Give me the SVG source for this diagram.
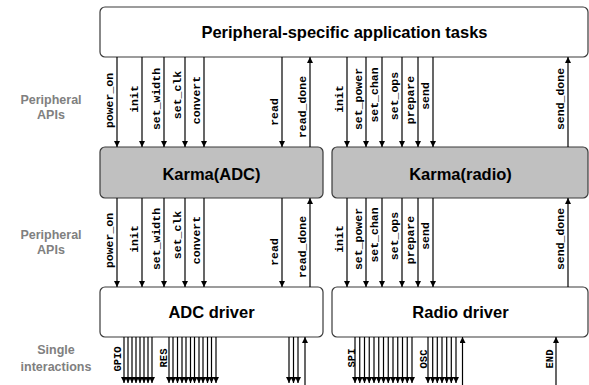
<svg xmlns="http://www.w3.org/2000/svg" width="589" height="385" viewBox="0 0 589 385">
<style>
.box{fill:#fff;stroke:#3a3a3a;stroke-width:1.2}
.kbox{fill:#c0c0c0;stroke:#3a3a3a;stroke-width:1.2}
.title{font-family:"Liberation Sans",Arial,sans-serif;font-weight:bold;font-size:16.5px;fill:#000;text-anchor:middle}
.side{font-family:"Liberation Sans",Arial,sans-serif;font-weight:bold;font-size:12.5px;fill:#808080;text-anchor:middle}
.lbl{font-family:"Liberation Mono","Courier New",monospace;font-weight:bold;font-size:11.5px;fill:#000;text-anchor:middle}
.pin{font-family:"Liberation Mono","Courier New",monospace;font-weight:bold;font-size:10.5px;fill:#000;text-anchor:middle}
.dn{stroke:#000;stroke-width:1.2;fill:none;marker-end:url(#ah)}
.up{stroke:#000;stroke-width:1.2;fill:none;marker-end:url(#ah)}
</style>
<defs>
<marker id="ah" viewBox="0 0 6 6" refX="6" refY="3" markerWidth="6" markerHeight="6" markerUnits="userSpaceOnUse" orient="auto"><path d="M0,0 L6,3 L0,6 z" fill="#000"/></marker>
</defs>

<g id="side-labels">
<text class="side" x="51" y="104">Peripheral</text>
<text class="side" x="51" y="119">APIs</text>
<text class="side" x="51" y="239">Peripheral</text>
<text class="side" x="51" y="254">APIs</text>
<text class="side" x="56" y="354">Single</text>
<text class="side" x="56" y="371">interactions</text>
</g>

<g id="app-tasks">
<rect class="box" x="100" y="7" width="488" height="50" rx="5"/>
<text class="title" x="344.5" y="38">Peripheral-specific application tasks</text>
</g>
<g id="karma-adc">
<rect class="kbox" x="100" y="147" width="223" height="51" rx="5"/>
<text class="title" x="211.5" y="180">Karma(ADC)</text>
</g>
<g id="karma-radio">
<rect class="kbox" x="332" y="147" width="256" height="51" rx="5"/>
<text class="title" x="460.5" y="180">Karma(radio)</text>
</g>
<g id="adc-driver">
<rect class="box" x="100" y="287" width="223" height="50" rx="5"/>
<text class="title" x="211.5" y="318">ADC driver</text>
</g>
<g id="radio-driver">
<rect class="box" x="332" y="287" width="256" height="50" rx="5"/>
<text class="title" x="460.5" y="318">Radio driver</text>
</g>

<g id="connectors">
<!-- top: app -> karma -->
<line class="dn" x1="117" y1="57" x2="117" y2="147"/>
<line class="dn" x1="142" y1="57" x2="142" y2="147"/>
<line class="dn" x1="164" y1="57" x2="164" y2="147"/>
<line class="dn" x1="185" y1="57" x2="185" y2="147"/>
<line class="dn" x1="204" y1="57" x2="204" y2="147"/>
<line class="dn" x1="282" y1="57" x2="282" y2="147"/>
<line class="up" x1="310" y1="147" x2="310" y2="57"/>
<line class="dn" x1="347" y1="57" x2="347" y2="147"/>
<line class="dn" x1="366" y1="57" x2="366" y2="147"/>
<line class="dn" x1="382" y1="57" x2="382" y2="147"/>
<line class="dn" x1="402" y1="57" x2="402" y2="147"/>
<line class="dn" x1="418" y1="57" x2="418" y2="147"/>
<line class="dn" x1="433" y1="57" x2="433" y2="147"/>
<line class="up" x1="568" y1="147" x2="568" y2="57"/>
<!-- middle: karma -> driver -->
<line class="dn" x1="117" y1="198" x2="117" y2="287"/>
<line class="dn" x1="142" y1="198" x2="142" y2="287"/>
<line class="dn" x1="164" y1="198" x2="164" y2="287"/>
<line class="dn" x1="185" y1="198" x2="185" y2="287"/>
<line class="dn" x1="204" y1="198" x2="204" y2="287"/>
<line class="dn" x1="282" y1="198" x2="282" y2="287"/>
<line class="up" x1="310" y1="287" x2="310" y2="198"/>
<line class="dn" x1="347" y1="198" x2="347" y2="287"/>
<line class="dn" x1="366" y1="198" x2="366" y2="287"/>
<line class="dn" x1="382" y1="198" x2="382" y2="287"/>
<line class="dn" x1="402" y1="198" x2="402" y2="287"/>
<line class="dn" x1="418" y1="198" x2="418" y2="287"/>
<line class="dn" x1="433" y1="198" x2="433" y2="287"/>
<line class="up" x1="568" y1="287" x2="568" y2="198"/>
<!-- bottom: ADC GPIO -->
<line class="dn" x1="124" y1="337" x2="124" y2="383"/>
<line class="dn" x1="128" y1="337" x2="128" y2="383"/>
<line class="dn" x1="132" y1="337" x2="132" y2="383"/>
<line class="dn" x1="136" y1="337" x2="136" y2="383"/>
<line class="dn" x1="140" y1="337" x2="140" y2="383"/>
<line class="dn" x1="144" y1="337" x2="144" y2="383"/>
<line class="dn" x1="148" y1="337" x2="148" y2="383"/>
<line class="dn" x1="152" y1="337" x2="152" y2="383"/>
<!-- ADC RES -->
<line class="dn" x1="169" y1="337" x2="169" y2="383"/>
<line class="dn" x1="173" y1="337" x2="173" y2="383"/>
<line class="dn" x1="177.5" y1="337" x2="177.5" y2="383"/>
<line class="dn" x1="182" y1="337" x2="182" y2="383"/>
<line class="dn" x1="186" y1="337" x2="186" y2="383"/>
<line class="dn" x1="190.5" y1="337" x2="190.5" y2="383"/>
<line class="dn" x1="194.5" y1="337" x2="194.5" y2="383"/>
<line class="dn" x1="199" y1="337" x2="199" y2="383"/>
<line class="dn" x1="203" y1="337" x2="203" y2="383"/>
<line class="dn" x1="207.5" y1="337" x2="207.5" y2="383"/>
<line class="dn" x1="211.5" y1="337" x2="211.5" y2="383"/>
<line class="dn" x1="216" y1="337" x2="216" y2="383"/>
<!-- ADC right -->
<line class="dn" x1="289" y1="337" x2="289" y2="383"/>
<line class="dn" x1="293.5" y1="337" x2="293.5" y2="383"/>
<line class="dn" x1="298" y1="337" x2="298" y2="383"/>
<line class="up" x1="305" y1="385" x2="305" y2="337"/>
<!-- Radio SPI -->
<line class="dn" x1="355" y1="337" x2="355" y2="383"/>
<line class="dn" x1="359.75" y1="337" x2="359.75" y2="383"/>
<line class="dn" x1="364.5" y1="337" x2="364.5" y2="383"/>
<line class="dn" x1="369.25" y1="337" x2="369.25" y2="383"/>
<line class="dn" x1="374" y1="337" x2="374" y2="383"/>
<line class="dn" x1="378.75" y1="337" x2="378.75" y2="383"/>
<line class="dn" x1="383.5" y1="337" x2="383.5" y2="383"/>
<line class="dn" x1="388.25" y1="337" x2="388.25" y2="383"/>
<line class="dn" x1="393" y1="337" x2="393" y2="383"/>
<line class="dn" x1="397.75" y1="337" x2="397.75" y2="383"/>
<line class="dn" x1="402.5" y1="337" x2="402.5" y2="383"/>
<line class="dn" x1="407.25" y1="337" x2="407.25" y2="383"/>
<line class="dn" x1="412" y1="337" x2="412" y2="383"/>
<!-- Radio OSC -->
<line class="dn" x1="428" y1="337" x2="428" y2="383"/>
<line class="dn" x1="432.7" y1="337" x2="432.7" y2="383"/>
<line class="dn" x1="437.3" y1="337" x2="437.3" y2="383"/>
<line class="dn" x1="442" y1="337" x2="442" y2="383"/>
<line class="dn" x1="446.7" y1="337" x2="446.7" y2="383"/>
<line class="dn" x1="451.3" y1="337" x2="451.3" y2="383"/>
<line class="dn" x1="456" y1="337" x2="456" y2="383"/>
<line class="up" x1="462.5" y1="385" x2="462.5" y2="337"/>
<line class="up" x1="556" y1="385" x2="556" y2="337"/>
</g>

<g id="connector-labels">
<text class="lbl" transform="translate(113,100.5) rotate(-90)">power_on</text>
<text class="lbl" transform="translate(138,99) rotate(-90)">init</text>
<text class="lbl" transform="translate(160,99) rotate(-90)">set_width</text>
<text class="lbl" transform="translate(181,95) rotate(-90)">set_clk</text>
<text class="lbl" transform="translate(200,100) rotate(-90)">convert</text>
<text class="lbl" transform="translate(278,112) rotate(-90)">read</text>
<text class="lbl" transform="translate(306,107) rotate(-90)">read_done</text>
<text class="lbl" transform="translate(343,99) rotate(-90)">init</text>
<text class="lbl" transform="translate(362,99) rotate(-90)">set_power</text>
<text class="lbl" transform="translate(378,95) rotate(-90)">set_chan</text>
<text class="lbl" transform="translate(398,96) rotate(-90)">set_ops</text>
<text class="lbl" transform="translate(414,100) rotate(-90)">prepare</text>
<text class="lbl" transform="translate(429,96) rotate(-90)">send</text>
<text class="lbl" transform="translate(564,99) rotate(-90)">send_done</text>

<text class="lbl" transform="translate(113,240.5) rotate(-90)">power_on</text>
<text class="lbl" transform="translate(138,239) rotate(-90)">init</text>
<text class="lbl" transform="translate(160,239) rotate(-90)">set_width</text>
<text class="lbl" transform="translate(181,235) rotate(-90)">set_clk</text>
<text class="lbl" transform="translate(200,240) rotate(-90)">convert</text>
<text class="lbl" transform="translate(278,252) rotate(-90)">read</text>
<text class="lbl" transform="translate(306,247) rotate(-90)">read_done</text>
<text class="lbl" transform="translate(343,239) rotate(-90)">init</text>
<text class="lbl" transform="translate(362,239) rotate(-90)">set_power</text>
<text class="lbl" transform="translate(378,235) rotate(-90)">set_chan</text>
<text class="lbl" transform="translate(398,236) rotate(-90)">set_ops</text>
<text class="lbl" transform="translate(414,240) rotate(-90)">prepare</text>
<text class="lbl" transform="translate(429,236) rotate(-90)">send</text>
<text class="lbl" transform="translate(564,239) rotate(-90)">send_done</text>

<text class="pin" transform="translate(121,359) rotate(-90)">GPIO</text>
<text class="pin" transform="translate(167,358) rotate(-90)">RES</text>
<text class="pin" transform="translate(355,358) rotate(-90)">SPI</text>
<text class="pin" transform="translate(427,359) rotate(-90)">OSC</text>
<text class="pin" transform="translate(553,359) rotate(-90)">END</text>
</g>
</svg>
